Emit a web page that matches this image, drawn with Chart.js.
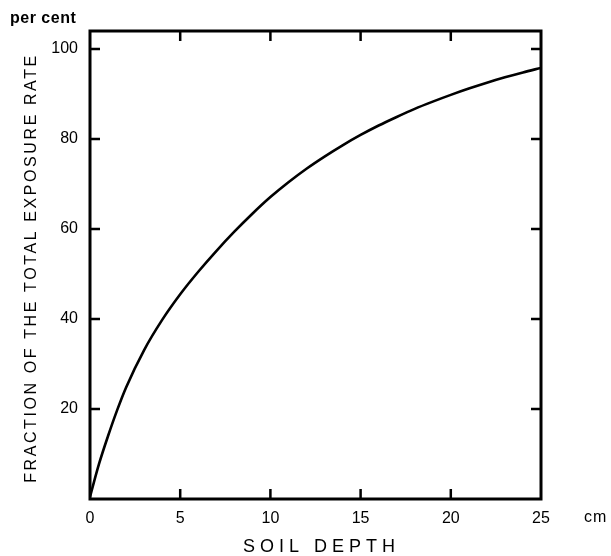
<!DOCTYPE html>
<html>
<head>
<meta charset="utf-8">
<script src="https://cdn.jsdelivr.net/npm/chart.js@4/dist/chart.umd.min.js"></script>
<style>
  html, body { margin: 0; background: #fff; }
</style>
</head>
<body>
<canvas id="chart" width="611" height="556"></canvas>
<script>
  // soil depth (cm) and fraction of the total exposure rate (per cent)
  const depthCm = [0, 0.5, 1, 1.5, 2, 3, 4, 5, 6, 7, 8, 9, 10, 11, 12, 13, 14, 15, 16, 17, 18, 19, 20, 21, 22, 23, 24, 25];
  const fractionPct = [0.5, 7.8, 14.0, 19.7, 24.8, 33.1, 39.8, 45.5, 50.5, 55.1, 59.4, 63.4, 67.1, 70.4, 73.4, 76.1, 78.6, 80.9, 83.0, 84.9, 86.7, 88.3, 89.8, 91.2, 92.5, 93.7, 94.8, 95.8];

  const xTitle = "SOIL DEPTH";
  const yTitle = "FRACTION OF THE TOTAL EXPOSURE RATE";
  const yUnit = "per cent";
  const xUnit = "cm";

  const ink = "#000";
  const fontFamily = "'Liberation Sans', Arial, sans-serif";

  // frame, inward tick marks and the spaced-out captions
  const framePlugin = {
    id: "frame",
    afterDraw(chart) {
      const { ctx, chartArea } = chart;
      const { left, right, top, bottom } = chartArea;
      const xs = chart.scales.x;
      const ys = chart.scales.y;
      const tickLen = 10;

      ctx.save();
      ctx.strokeStyle = ink;
      ctx.lineWidth = 3;
      ctx.lineCap = "square";
      ctx.strokeRect(left, top, right - left, bottom - top);

      ctx.lineWidth = 2.5;
      ctx.lineCap = "butt";
      ctx.beginPath();
      xs.ticks.forEach(function (t) {
        if (t.value <= xs.min || t.value >= xs.max) {
          return;
        }
        const px = xs.getPixelForValue(t.value);
        ctx.moveTo(px, bottom);
        ctx.lineTo(px, bottom - tickLen);
        ctx.moveTo(px, top);
        ctx.lineTo(px, top + tickLen);
      });
      ys.ticks.forEach(function (t) {
        if (t.value <= ys.min || t.value >= ys.max) {
          return;
        }
        const py = ys.getPixelForValue(t.value);
        ctx.moveTo(left, py);
        ctx.lineTo(left + tickLen, py);
        ctx.moveTo(right, py);
        ctx.lineTo(right - tickLen, py);
      });
      ctx.stroke();

      ctx.fillStyle = ink;
      ctx.textBaseline = "middle";

      ctx.font = "bold 16px " + fontFamily;
      ctx.textAlign = "left";
      ctx.letterSpacing = "0.5px";
      ctx.fillText(yUnit, 10, 19);
      ctx.font = "16px " + fontFamily;
      ctx.letterSpacing = "1px";
      ctx.fillText(xUnit, 584, 518);

      ctx.font = "18px " + fontFamily;
      ctx.textAlign = "center";
      ctx.letterSpacing = "5px";
      ctx.fillText(xTitle, (left + right) / 2 + 6, 547);

      ctx.translate(32, 268);
      ctx.rotate(-Math.PI / 2);
      ctx.font = "16px " + fontFamily;
      ctx.letterSpacing = "2.6px";
      ctx.fillText(yTitle, 0, 0);
      ctx.restore();
    },
  };

  const points = depthCm.map(function (d, i) {
    return { x: d, y: fractionPct[i] };
  });

  new Chart(document.getElementById("chart"), {
    type: "line",
    data: {
      datasets: [{
        data: points,
        borderColor: "#000",
        borderWidth: 2.6,
        pointRadius: 0,
        fill: false,
        cubicInterpolationMode: "monotone",
      }],
    },
    options: {
      responsive: false,
      animation: false,
      layout: { padding: { top: 31, right: 70, bottom: 0, left: 0 } },
      plugins: {
        legend: { display: false },
        tooltip: { enabled: false },
      },
      scales: {
        x: {
          type: "linear",
          min: 0,
          max: 25,
          grid: { display: false, drawTicks: false },
          border: { display: false },
          ticks: {
            stepSize: 5,
            color: ink,
            padding: 10,
            font: { family: fontFamily, size: 16 },
            maxRotation: 0,
          },
          afterFit(scale) {
            scale.height = 57;
          },
        },
        y: {
          min: 0,
          max: 104,
          grid: { display: false, drawTicks: false },
          border: { display: false },
          ticks: {
            stepSize: 20,
            includeBounds: false,
            color: ink,
            padding: 12,
            font: { family: fontFamily, size: 16 },
            callback: function (v) {
              return v === 0 ? "" : v;
            },
          },
          afterFit(scale) {
            scale.width = 90;
          },
        },
      },
    },
    plugins: [framePlugin],
  });
</script>
</body>
</html>
